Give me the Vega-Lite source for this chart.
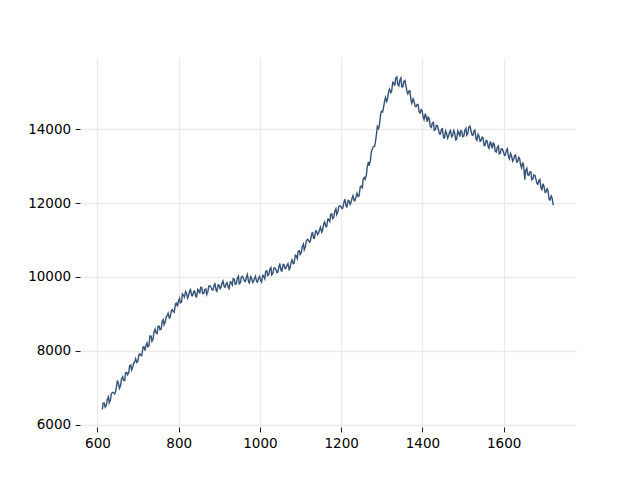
{
  "$schema": "https://vega.github.io/schema/vega-lite/v6.json",
  "width": 496,
  "height": 369,
  "autosize": {"type": "none"},
  "padding": {"left": 80, "top": 58, "right": 64, "bottom": 53},
  "background": "white",
  "config": {
    "view": {"stroke": null},
    "axis": {
      "labelFont": "DejaVu Sans",
      "labelFontSize": 13.5,
      "labelColor": "#000000",
      "tickColor": "#000000",
      "tickSize": 4.9,
      "tickWidth": 0.9,
      "labelPadding": 4.5,
      "domain": false,
      "grid": true,
      "gridColor": "#ebebeb",
      "gridWidth": 1.3,
      "title": null
    }
  },
  "data": {
    "values": [
      {"x":612,"y":6420},{"x":614,"y":6595},{"x":617,"y":6590},{"x":619,"y":6480},{"x":622,"y":6530},{"x":624,"y":6685},{"x":627,"y":6760},{"x":629,"y":6600},
      {"x":632,"y":6680},{"x":634,"y":6840},{"x":637,"y":6880},{"x":639,"y":6880},{"x":642,"y":6840},{"x":644,"y":6870},{"x":647,"y":7040},{"x":649,"y":7205},
      {"x":652,"y":7110},{"x":654,"y":6990},{"x":657,"y":7070},{"x":659,"y":7235},{"x":662,"y":7300},{"x":664,"y":7210},{"x":667,"y":7200},{"x":669,"y":7410},
      {"x":672,"y":7420},{"x":674,"y":7355},{"x":677,"y":7410},{"x":679,"y":7595},{"x":682,"y":7620},{"x":684,"y":7485},{"x":687,"y":7570},{"x":689,"y":7670},
      {"x":692,"y":7710},{"x":694,"y":7790},{"x":697,"y":7690},{"x":699,"y":7710},{"x":702,"y":7890},{"x":704,"y":7925},{"x":707,"y":7880},{"x":709,"y":7870},
      {"x":712,"y":8100},{"x":714,"y":8115},{"x":717,"y":8010},{"x":719,"y":8135},{"x":722,"y":8220},{"x":724,"y":8115},{"x":727,"y":8150},{"x":729,"y":8405},
      {"x":732,"y":8400},{"x":734,"y":8265},{"x":737,"y":8330},{"x":739,"y":8510},{"x":742,"y":8590},{"x":744,"y":8490},{"x":747,"y":8470},{"x":749,"y":8670},
      {"x":752,"y":8670},{"x":754,"y":8570},{"x":757,"y":8590},{"x":759,"y":8800},{"x":762,"y":8850},{"x":764,"y":8710},{"x":767,"y":8790},{"x":769,"y":8910},
      {"x":772,"y":8970},{"x":774,"y":9020},{"x":777,"y":8890},{"x":779,"y":8915},{"x":782,"y":9100},{"x":784,"y":9120},{"x":787,"y":9060},{"x":789,"y":9045},
      {"x":792,"y":9270},{"x":794,"y":9295},{"x":797,"y":9200},{"x":799,"y":9330},{"x":802,"y":9420},{"x":804,"y":9300},{"x":807,"y":9320},{"x":809,"y":9540},
      {"x":812,"y":9500},{"x":814,"y":9455},{"x":817,"y":9610},{"x":819,"y":9570},{"x":822,"y":9430},{"x":824,"y":9488},{"x":827,"y":9625},{"x":829,"y":9660},
      {"x":832,"y":9495},{"x":834,"y":9493},{"x":837,"y":9610},{"x":839,"y":9625},{"x":842,"y":9480},{"x":844,"y":9463},{"x":847,"y":9665},{"x":849,"y":9640},
      {"x":852,"y":9555},{"x":854,"y":9723},{"x":857,"y":9710},{"x":859,"y":9553},{"x":862,"y":9555},{"x":864,"y":9658},{"x":867,"y":9680},{"x":869,"y":9525},
      {"x":872,"y":9610},{"x":874,"y":9748},{"x":877,"y":9765},{"x":879,"y":9730},{"x":882,"y":9655},{"x":884,"y":9643},{"x":887,"y":9770},{"x":889,"y":9835},
      {"x":892,"y":9640},{"x":894,"y":9613},{"x":897,"y":9785},{"x":899,"y":9785},{"x":902,"y":9685},{"x":904,"y":9725},{"x":907,"y":9845},{"x":909,"y":9893},
      {"x":912,"y":9740},{"x":914,"y":9720},{"x":917,"y":9820},{"x":919,"y":9850},{"x":922,"y":9720},{"x":924,"y":9685},{"x":927,"y":9870},{"x":929,"y":9858},
      {"x":932,"y":9785},{"x":934,"y":9953},{"x":937,"y":9940},{"x":939,"y":9800},{"x":942,"y":9820},{"x":944,"y":9963},{"x":947,"y":10025},{"x":949,"y":9818},
      {"x":952,"y":9850},{"x":954,"y":9995},{"x":957,"y":10020},{"x":959,"y":9973},{"x":962,"y":9885},{"x":964,"y":9878},{"x":967,"y":10010},{"x":969,"y":10068},
      {"x":972,"y":9865},{"x":974,"y":9838},{"x":977,"y":10010},{"x":979,"y":9983},{"x":982,"y":9855},{"x":984,"y":9875},{"x":987,"y":9975},{"x":989,"y":10023},
      {"x":992,"y":9870},{"x":994,"y":9863},{"x":997,"y":9975},{"x":999,"y":10018},{"x":1002,"y":9900},{"x":1004,"y":9863},{"x":1007,"y":10045},{"x":1009,"y":10028},
      {"x":1012,"y":9950},{"x":1014,"y":10148},{"x":1017,"y":10165},{"x":1019,"y":10038},{"x":1022,"y":10070},{"x":1024,"y":10203},{"x":1027,"y":10255},{"x":1029,"y":10058},
      {"x":1032,"y":10100},{"x":1034,"y":10233},{"x":1037,"y":10245},{"x":1039,"y":10203},{"x":1042,"y":10120},{"x":1044,"y":10135},{"x":1047,"y":10290},{"x":1049,"y":10363},
      {"x":1052,"y":10175},{"x":1054,"y":10158},{"x":1057,"y":10340},{"x":1059,"y":10333},{"x":1062,"y":10225},{"x":1064,"y":10238},{"x":1067,"y":10330},{"x":1069,"y":10365},
      {"x":1072,"y":10200},{"x":1074,"y":10245},{"x":1077,"y":10410},{"x":1079,"y":10465},{"x":1082,"y":10360},{"x":1084,"y":10365},{"x":1087,"y":10590},{"x":1089,"y":10575},
      {"x":1092,"y":10500},{"x":1094,"y":10695},{"x":1097,"y":10710},{"x":1099,"y":10610},{"x":1102,"y":10670},{"x":1104,"y":10820},{"x":1107,"y":10890},{"x":1109,"y":10735},
      {"x":1112,"y":10820},{"x":1114,"y":10980},{"x":1117,"y":11020},{"x":1119,"y":11000},{"x":1122,"y":10940},{"x":1124,"y":10968},{"x":1127,"y":11135},{"x":1129,"y":11220},
      {"x":1132,"y":11045},{"x":1134,"y":11045},{"x":1137,"y":11245},{"x":1139,"y":11245},{"x":1142,"y":11145},{"x":1144,"y":11175},{"x":1147,"y":11285},{"x":1149,"y":11348},
      {"x":1152,"y":11210},{"x":1154,"y":11265},{"x":1157,"y":11440},{"x":1159,"y":11485},{"x":1162,"y":11370},{"x":1164,"y":11355},{"x":1167,"y":11560},{"x":1169,"y":11560},
      {"x":1172,"y":11500},{"x":1174,"y":11693},{"x":1177,"y":11705},{"x":1179,"y":11580},{"x":1182,"y":11615},{"x":1184,"y":11770},{"x":1187,"y":11845},{"x":1189,"y":11685},
      {"x":1192,"y":11765},{"x":1194,"y":11905},{"x":1197,"y":11925},{"x":1199,"y":11908},{"x":1202,"y":11850},{"x":1204,"y":11870},{"x":1207,"y":12030},{"x":1209,"y":12105},
      {"x":1212,"y":11920},{"x":1214,"y":11895},{"x":1217,"y":12070},{"x":1219,"y":12065},{"x":1222,"y":11960},{"x":1224,"y":12010},{"x":1227,"y":12140},{"x":1229,"y":12200},
      {"x":1232,"y":12060},{"x":1234,"y":12070},{"x":1237,"y":12200},{"x":1239,"y":12265},{"x":1242,"y":12170},{"x":1244,"y":12195},{"x":1247,"y":12440},{"x":1249,"y":12455},
      {"x":1252,"y":12410},{"x":1254,"y":12640},{"x":1257,"y":12690},{"x":1259,"y":12643},{"x":1262,"y":12755},{"x":1264,"y":12973},{"x":1267,"y":13110},{"x":1269,"y":13013},
      {"x":1272,"y":13155},{"x":1274,"y":13373},{"x":1277,"y":13470},{"x":1279,"y":13520},{"x":1282,"y":13530},{"x":1284,"y":13630},{"x":1287,"y":13870},{"x":1289,"y":14070},
      {"x":1292,"y":14010},{"x":1294,"y":14105},{"x":1297,"y":14400},{"x":1299,"y":14480},{"x":1302,"y":14460},{"x":1304,"y":14570},{"x":1307,"y":14760},{"x":1309,"y":14853},
      {"x":1312,"y":14745},{"x":1314,"y":14823},{"x":1317,"y":15020},{"x":1319,"y":15080},{"x":1322,"y":14980},{"x":1324,"y":15013},{"x":1327,"y":15265},{"x":1329,"y":15248},
      {"x":1332,"y":15170},{"x":1334,"y":15380},{"x":1337,"y":15410},{"x":1339,"y":15208},{"x":1342,"y":15165},{"x":1344,"y":15313},{"x":1347,"y":15380},{"x":1349,"y":15140},
      {"x":1352,"y":15140},{"x":1354,"y":15285},{"x":1357,"y":15310},{"x":1359,"y":15183},{"x":1362,"y":15015},{"x":1364,"y":14953},{"x":1367,"y":15030},{"x":1369,"y":15033},
      {"x":1372,"y":14775},{"x":1374,"y":14695},{"x":1377,"y":14815},{"x":1379,"y":14768},{"x":1382,"y":14620},{"x":1384,"y":14603},{"x":1387,"y":14665},{"x":1389,"y":14663},
      {"x":1392,"y":14460},{"x":1394,"y":14433},{"x":1397,"y":14525},{"x":1399,"y":14500},{"x":1402,"y":14315},{"x":1404,"y":14255},{"x":1407,"y":14415},{"x":1409,"y":14333},
      {"x":1412,"y":14190},{"x":1414,"y":14320},{"x":1417,"y":14270},{"x":1419,"y":14078},{"x":1422,"y":14045},{"x":1424,"y":14153},{"x":1427,"y":14180},{"x":1429,"y":13963},
      {"x":1432,"y":13985},{"x":1434,"y":14098},{"x":1437,"y":14090},{"x":1439,"y":13998},{"x":1442,"y":13865},{"x":1444,"y":13860},{"x":1447,"y":13995},{"x":1449,"y":14010},
      {"x":1452,"y":13765},{"x":1454,"y":13758},{"x":1457,"y":13950},{"x":1459,"y":13900},{"x":1462,"y":13750},{"x":1464,"y":13800},{"x":1467,"y":13930},{"x":1469,"y":13960},
      {"x":1472,"y":13790},{"x":1474,"y":13815},{"x":1477,"y":13960},{"x":1479,"y":13913},{"x":1482,"y":13705},{"x":1484,"y":13718},{"x":1487,"y":13950},{"x":1489,"y":13903},
      {"x":1492,"y":13795},{"x":1494,"y":13955},{"x":1497,"y":13935},{"x":1499,"y":13793},{"x":1502,"y":13810},{"x":1504,"y":13955},{"x":1507,"y":14020},{"x":1509,"y":13838},
      {"x":1512,"y":13895},{"x":1514,"y":14048},{"x":1517,"y":14080},{"x":1519,"y":13978},{"x":1522,"y":13835},{"x":1524,"y":13823},{"x":1527,"y":13950},{"x":1529,"y":13970},
      {"x":1532,"y":13730},{"x":1534,"y":13695},{"x":1537,"y":13860},{"x":1539,"y":13815},{"x":1542,"y":13670},{"x":1544,"y":13685},{"x":1547,"y":13780},{"x":1549,"y":13765},
      {"x":1552,"y":13550},{"x":1554,"y":13563},{"x":1557,"y":13695},{"x":1559,"y":13685},{"x":1562,"y":13515},{"x":1564,"y":13480},{"x":1567,"y":13665},{"x":1569,"y":13600},
      {"x":1572,"y":13475},{"x":1574,"y":13620},{"x":1577,"y":13585},{"x":1579,"y":13403},{"x":1582,"y":13380},{"x":1584,"y":13500},{"x":1587,"y":13540},{"x":1589,"y":13328},
      {"x":1592,"y":13355},{"x":1594,"y":13465},{"x":1597,"y":13455},{"x":1599,"y":13390},{"x":1602,"y":13285},{"x":1604,"y":13290},{"x":1607,"y":13435},{"x":1609,"y":13468},
      {"x":1612,"y":13240},{"x":1614,"y":13190},{"x":1617,"y":13340},{"x":1619,"y":13285},{"x":1622,"y":13130},{"x":1624,"y":13168},{"x":1627,"y":13285},{"x":1629,"y":13295},
      {"x":1632,"y":13105},{"x":1634,"y":13110},{"x":1637,"y":13235},{"x":1639,"y":13208},{"x":1642,"y":13020},{"x":1644,"y":12950},{"x":1647,"y":13100},{"x":1649,"y":13020},
      {"x":1652,"y":12630},{"x":1654,"y":12875},{"x":1657,"y":12940},{"x":1659,"y":12765},{"x":1662,"y":12750},{"x":1664,"y":12838},{"x":1667,"y":12845},{"x":1669,"y":12630},
      {"x":1672,"y":12655},{"x":1674,"y":12760},{"x":1677,"y":12745},{"x":1679,"y":12658},{"x":1682,"y":12530},{"x":1684,"y":12505},{"x":1687,"y":12620},{"x":1689,"y":12638},
      {"x":1692,"y":12395},{"x":1694,"y":12360},{"x":1697,"y":12525},{"x":1699,"y":12455},{"x":1702,"y":12285},{"x":1704,"y":12295},{"x":1707,"y":12385},{"x":1709,"y":12340},
      {"x":1712,"y":12095},{"x":1714,"y":12083},{"x":1717,"y":12190},{"x":1719,"y":12145},{"x":1722,"y":11940}
    ]
  },
  "mark": {"type": "line", "color": "#345276", "strokeWidth": 1.4},
  "encoding": {
    "x": {
      "field": "x",
      "type": "quantitative",
      "scale": {"domain": [557, 1778], "nice": false, "zero": false},
      "axis": {"values": [600, 800, 1000, 1200, 1400, 1600], "format": "d"}
    },
    "y": {
      "field": "y",
      "type": "quantitative",
      "scale": {"domain": [5945, 15920], "nice": false, "zero": false},
      "axis": {"values": [6000, 8000, 10000, 12000, 14000], "format": "d"}
    }
  }
}
